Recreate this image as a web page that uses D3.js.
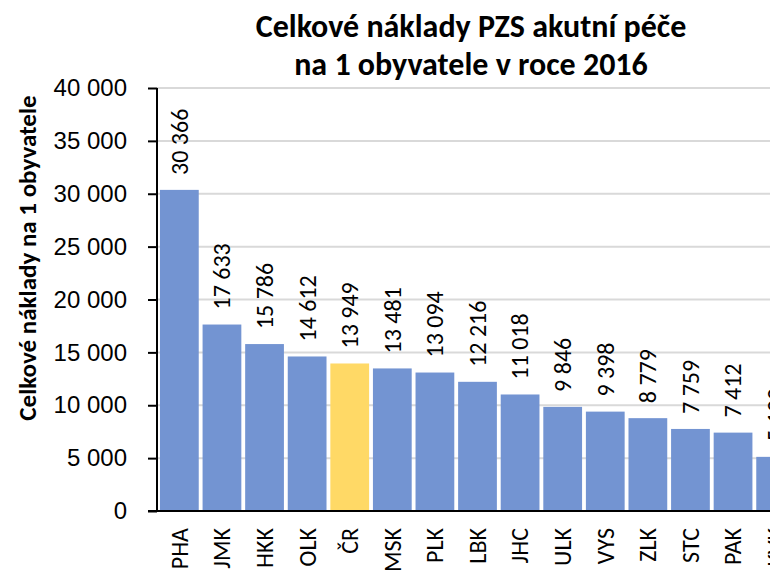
<!DOCTYPE html>
<html>
<head>
<meta charset="utf-8">
<script src="https://cdn.jsdelivr.net/npm/d3@7"></script>
<style>
  body { margin: 0; background: #fff; }
  svg { display: block; font-family: Carlito, Lato, "Open Sans", sans-serif; }
</style>
</head>
<body>
<script>
// kraje + ČR, náklady na 1 obyvatele (Kč)
var regions = ["PHA", "JMK", "HKK", "OLK", "ČR", "MSK", "PLK", "LBK", "JHC", "ULK", "VYS", "ZLK", "STC", "PAK", "KVK"];
var costs = [30366, 17633, 15786, 14612, 13949, 13481, 13094, 12216, 11018, 9846, 9398, 8779, 7759, 7412, 5120];
var yTicks = [0, 5000, 10000, 15000, 20000, 25000, 30000, 35000, 40000];
var titleLines = ["Celkové náklady PZS akutní péče", "na 1 obyvatele v roce 2016"];
var yTitle = "Celkové náklady na 1 obyvatele";

var width = 770, height = 573;
var svg = d3.select("body").append("svg").attr("width", width).attr("height", height);

var fmt = function (d) { return d3.format(",d")(d).replace(/,/g, "\u00a0"); };

var x = d3.scaleBand().domain(regions).range([157, 798]).paddingInner(0.09).paddingOuter(0.07);
var y = d3.scaleLinear().domain([0, 40000]).range([511, 88]);

// gridlines
svg.append("g")
   .selectAll("line")
   .data(yTicks.slice(1))
   .enter().append("line")
   .attr("x1", 157).attr("x2", width)
   .attr("y1", function (d) { return y(d); })
   .attr("y2", function (d) { return y(d); })
   .attr("stroke", "#d9d9d9")
   .attr("stroke-width", 2);

// bars
svg.append("g")
   .selectAll("rect")
   .data(regions)
   .enter().append("rect")
   .attr("x", function (d) { return x(d); })
   .attr("width", x.bandwidth())
   .attr("y", function (d, i) { return y(costs[i]); })
   .attr("height", function (d, i) { return y(0) - y(costs[i]); })
   .attr("fill", function (d) { return d === "ČR" ? "#ffd966" : "#7394d2"; });

// value labels
svg.append("g")
   .selectAll("text")
   .data(regions)
   .enter().append("text")
   .attr("transform", function (d, i) {
       return "translate(" + (x(d) + x.bandwidth() / 2) + "," + (y(costs[i]) - 15) + ") rotate(-90)";
   })
   .attr("dy", "0.35em")
   .attr("text-anchor", "start")
   .attr("font-size", 24)
   .attr("fill", "#000")
   .text(function (d, i) { return fmt(costs[i]); });

// y axis
var yAxis = d3.axisLeft(y).tickValues(yTicks).tickSize(9).tickPadding(21).tickFormat(fmt);
var gy = svg.append("g").attr("transform", "translate(157,0)").call(yAxis);
gy.select(".domain").attr("stroke", "#000").attr("stroke-width", 2).attr("d", "M0," + y(40000) + "V" + y(0));
gy.selectAll(".tick line").attr("stroke", "#000").attr("stroke-width", 2);
gy.selectAll(".tick text").attr("font-size", 24).attr("fill", "#000").attr("font-family", null);

// x axis line
svg.append("line")
   .attr("x1", 148).attr("x2", width)
   .attr("y1", y(0)).attr("y2", y(0))
   .attr("stroke", "#000").attr("stroke-width", 2);

// category labels
svg.append("g")
   .selectAll("text")
   .data(regions)
   .enter().append("text")
   .attr("transform", function (d) {
       return "translate(" + (x(d) + x.bandwidth() / 2) + ",528) rotate(-90)";
   })
   .attr("dy", "0.35em")
   .attr("text-anchor", "end")
   .attr("font-size", 24)
   .attr("fill", "#000")
   .text(function (d) { return d; });

// titles
svg.append("g")
   .selectAll("text")
   .data(titleLines)
   .enter().append("text")
   .attr("x", 471)
   .attr("y", function (d, i) { return 37 + i * 38; })
   .attr("text-anchor", "middle")
   .attr("font-size", 32)
   .attr("font-weight", "bold")
   .attr("fill", "#000")
   .text(function (d) { return d; });

svg.append("text")
   .attr("transform", "translate(36,258) rotate(-90)")
   .attr("text-anchor", "middle")
   .attr("font-size", 25)
   .attr("font-weight", "bold")
   .attr("fill", "#000")
   .text(yTitle);
</script>
</body>
</html>
